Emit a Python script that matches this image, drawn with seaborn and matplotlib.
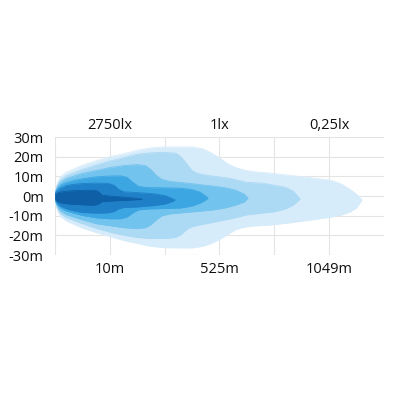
import matplotlib
matplotlib.use("Agg")
import matplotlib.pyplot as plt
import seaborn as sns
import numpy as np
import pandas as pd

# ---- data (x in grid units of the chart, y in metres) ----
bottom_labels = ["10m", "525m", "1049m"]
top_labels = ["2750lx", "1lx", "0,25lx"]
label_pos = [1, 3, 5]
y_ticks = [30, 20, 10, 0, -10, -20, -30]
y_tick_labels = ["30m", "20m", "10m", "0m", "-10m", "-20m", "-30m"]

l1_x = [0, 0.02, 0.05, 0.1, 0.2, 0.36, 0.5, 0.75, 1.0, 1.25, 1.5, 1.75, 2.0, 2.5, 2.7, 2.85, 3.0, 3.15, 3.3, 3.45, 3.6, 3.92, 4.3, 4.7, 5.02, 5.2, 5.38, 5.5, 5.6]
l1_up = [0, 4, 7, 9.8, 12, 14, 15.7, 18, 20, 21.5, 23.3, 24.5, 25, 25, 24, 22, 19.5, 16.5, 14.5, 13.3, 12.5, 11.7, 10.5, 9.2, 8.1, 6.5, 3.5, 1, -2]
l1_lo = [0, -4.5, -7.5, -10.3, -12.5, -14.5, -16.2, -18.5, -20.5, -22.5, -24, -25.5, -26.2, -26.3, -25.5, -24, -22, -19.5, -17, -15.8, -15.2, -14.7, -13.5, -12, -10.7, -9.8, -8.1, -6, -2]

l2_x = [0, 0.02, 0.05, 0.1, 0.2, 0.36, 0.5, 0.75, 1.0, 1.25, 1.5, 1.75, 2.0, 2.2, 2.3, 2.4, 2.5, 2.6, 2.8, 3.2, 3.5, 3.8, 4.0, 4.2, 4.35, 4.47]
l2_up = [0, 3.5, 6, 8.3, 10.3, 12, 13.5, 15.8, 17.8, 19.5, 21.3, 22, 22.2, 21.8, 20, 16.5, 13, 11.5, 10.5, 9, 7, 6.5, 5.5, 4.5, 2.5, -1.5]
l2_lo = [0, -4, -6.5, -8.8, -10.8, -12.5, -14, -16.3, -18.3, -19.8, -21, -21.5, -21.5, -21, -19.5, -17, -15.5, -14.8, -13.8, -11.5, -9.5, -8.5, -8, -6.5, -4.5, -1.5]

l3_x = [0, 0.02, 0.05, 0.1, 0.2, 0.36, 0.5, 0.75, 1.0, 1.25, 1.5, 1.65, 1.75, 1.85, 1.95, 2.1, 2.5, 2.88, 3.1, 3.3, 3.45, 3.52]
l3_up = [0, 3, 5, 7, 8.8, 10.3, 11.5, 13, 14.5, 15.5, 16, 15.5, 13.5, 10.5, 8.5, 7.5, 6.3, 5.1, 4.3, 3, 1, -1]
l3_lo = [0, -3.5, -5.5, -7.5, -9.3, -10.8, -12, -14, -15, -16, -16.5, -16, -14.5, -12, -10, -9, -8, -7, -6, -4.5, -3, -1]

l4_x = [0, 0.02, 0.05, 0.1, 0.2, 0.36, 0.5, 0.75, 1.0, 1.2, 1.32, 1.42, 1.52, 1.7, 2.0, 2.3, 2.5, 2.65, 2.75, 2.79]
l4_up = [0, 2.5, 4, 5.5, 6.8, 8, 8.8, 9.8, 10.2, 10.3, 9.5, 7, 5, 4.3, 4.2, 4, 3.3, 2, 0, -1]
l4_lo = [0, -3, -4.5, -6, -7.5, -8.8, -9.8, -11, -11.5, -11.5, -10.5, -8.5, -7, -6.5, -6.3, -6, -5, -3.5, -2, -1]

l5_x = [0, 0.02, 0.05, 0.1, 0.2, 0.3, 0.5, 0.75, 0.97, 1.08, 1.16, 1.25, 1.5, 1.8, 2.0, 2.12, 2.19]
l5_up = [0, 2, 3, 4, 5.2, 5.8, 6.4, 6.6, 6.5, 5.5, 3.5, 2.2, 1.8, 1.2, 0.3, -1, -2]
l5_lo = [0, -2.5, -3.8, -5, -6.3, -7.2, -8.3, -8.6, -8.5, -7.8, -6.5, -5.8, -5.5, -4.8, -4, -3, -2]

l6_x = [0, 0.02, 0.05, 0.15, 0.3, 0.5, 0.7, 0.78, 0.86, 1.0, 1.3, 1.5, 1.59]
l6_up = [0, 1.2, 1.7, 2.3, 2.7, 2.9, 3, 2.6, 0.5, 0, -0.6, -1.2, -1.5]
l6_lo = [0, -2, -2.8, -3.6, -4.1, -4.4, -4.6, -4.2, -2.8, -2.5, -2.1, -1.8, -1.5]

level_colors = ["#d7ecfa", "#acd9f4", "#72c3ee", "#3ca6e2", "#1f80c8", "#0e5fa5"]

levels = [
    (l1_x, l1_up, l1_lo),
    (l2_x, l2_up, l2_lo),
    (l3_x, l3_up, l3_lo),
    (l4_x, l4_up, l4_lo),
    (l5_x, l5_up, l5_lo),
    (l6_x, l6_up, l6_lo),
]

# ---- plot ----
sns.set_theme(style="white")
plt.rcParams['font.family'] = ['Open Sans', 'DejaVu Sans']

fig = plt.figure(figsize=(3.95, 3.95), dpi=100)
ax = fig.add_axes([0.139, 0.354, 0.833, 0.299])

for (xs, up, lo), col in zip(levels, level_colors):
    df = pd.DataFrame({"x": xs, "up": up, "lo": lo})
    ax.fill_between(df["x"], df["lo"], df["up"], color=col, lw=0, zorder=2)
    sns.lineplot(data=df, x="x", y="up", color=col, lw=0.6, ax=ax, zorder=2, sort=False)
    sns.lineplot(data=df, x="x", y="lo", color=col, lw=0.6, ax=ax, zorder=2, sort=False)

ax.set_xlim(0, 6)
ax.set_ylim(-30, 30)
ax.set_xticks(range(6))
ax.set_xticklabels(["" if i not in label_pos else bottom_labels[label_pos.index(i)] for i in range(6)])
ax.set_yticks(y_ticks)
ax.set_yticklabels(y_tick_labels)
ax.set_xlabel("")
ax.set_ylabel("")
ax.grid(True, color="#e4e4e4", lw=0.8, zorder=0)
ax.set_axisbelow(True)
for s in ax.spines.values():
    s.set_visible(False)
ax.tick_params(axis="both", length=0, labelsize=10.5, colors="#111111")
ax.tick_params(axis="y", pad=8)
ax.tick_params(axis="x", pad=5)

sec = ax.secondary_xaxis("top")
sec.set_xticks(label_pos)
sec.set_xticklabels(top_labels)
sec.tick_params(length=0, labelsize=10.5, colors="#111111", pad=3)
for s in sec.spines.values():
    s.set_visible(False)

fig.savefig("out.png", dpi=100, facecolor="white")
